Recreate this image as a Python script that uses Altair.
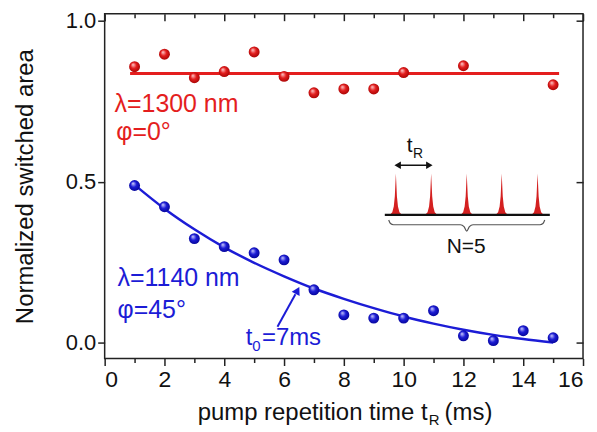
import altair as alt
import pandas as pd

# ---------------- data ----------------
red_x = [1, 2, 3, 4, 5, 6, 7, 8, 9, 10, 12, 15]
red_y = [0.857, 0.896, 0.823, 0.842, 0.903, 0.827, 0.776, 0.788, 0.788, 0.839, 0.860, 0.801]
red_fit_x = [0.85, 15.2]
red_fit_y = [0.836, 0.836]

blue_x = [1, 2, 3, 4, 5, 6, 7, 8, 9, 10, 11, 12, 13, 14, 15]
blue_y = [0.488, 0.422, 0.323, 0.298, 0.279, 0.257, 0.164, 0.086, 0.076, 0.076, 0.099, 0.021, 0.006, 0.037, 0.015]
blue_fit_x = [1, 2, 3, 4, 5, 6, 7, 8, 9, 10, 11, 12, 13, 14, 15]
blue_fit_y = [0.490, 0.416, 0.352, 0.296, 0.248, 0.206, 0.168, 0.136, 0.107, 0.081, 0.059, 0.040, 0.024, 0.011, 0.0]

x_major = [0, 2, 4, 6, 8, 10, 12, 14, 16]
x_minor = [1, 3, 5, 7, 9, 11, 13, 15]
x_all = list(range(0, 17))
y_ticks = [0.0, 0.5, 1.0]

# inset schematic (pulse train)
pulse_centers = [9.74, 10.92, 12.11, 13.28, 14.48]
pulse_offsets = [-0.2, -0.12, -0.07, -0.035, 0.0, 0.035, 0.07, 0.12, 0.2]
pulse_shape = [0.0, 0.06, 0.2, 0.45, 1.0, 0.45, 0.2, 0.06, 0.0]
pulse_base = 0.397
pulse_top = 0.525
inset_line_x = [9.37, 14.89]
brace_x = [9.50, 9.56, 9.66, 11.90, 12.02, 12.11, 12.20, 12.32, 14.56, 14.66, 14.72]
brace_y = [0.381, 0.370, 0.366, 0.366, 0.360, 0.346, 0.360, 0.366, 0.366, 0.370, 0.381]
tr_arrow_x = [9.80, 10.86]
tr_arrow_y = [0.551, 0.551]
t0_arrow_x = [5.78, 6.38]
t0_arrow_y = [0.049, 0.150]
t0_head = (6.45, 0.162)

RED = "#e41e1e"
BLUE = "#1c1cd6"
FONT = "Liberation Sans"

xs = alt.Scale(domain=[0, 16], nice=False, zero=False)
ys = alt.Scale(domain=[-0.0495, 1.0217], nice=False, zero=False)


def X(field="x", axis=None):
    return alt.X(field, type="quantitative", scale=xs, axis=axis)


def Y(field="y", axis=None):
    return alt.Y(field, type="quantitative", scale=ys, axis=axis)


def sphere(color, dark, light):
    return alt.RadialGradient(
        gradient="radial",
        stops=[alt.GradientStop(color=light, offset=0),
               alt.GradientStop(color=color, offset=0.45),
               alt.GradientStop(color=dark, offset=1)],
        x1=0.35, y1=0.3, r1=0, x2=0.5, y2=0.5, r2=0.6)


red_df = pd.DataFrame({"x": red_x, "y": red_y})
red_fit_df = pd.DataFrame({"x": red_fit_x, "y": red_fit_y})
blue_df = pd.DataFrame({"x": blue_x, "y": blue_y})
blue_fit_df = pd.DataFrame({"x": blue_fit_x, "y": blue_fit_y})

# axes
ax_bottom = alt.Axis(orient="bottom", values=x_all,
                     labelExpr="datum.value % 2 === 0 ? datum.label : ''",
                     tickSize={"condition": {"test": "datum.value % 2 === 0", "value": 7}, "value": 4},
                     labelFontSize=23, labelPadding=3, title=None)
ax_left = alt.Axis(orient="left", values=y_ticks, format=".1f", tickSize=7,
                   labelFontSize=22, labelPadding=2,
                   title="Normalized switched area", titleFontSize=24, titlePadding=28)
ax_top_major = alt.Axis(orient="top", values=x_major, tickSize=7, offset=-7,
                        labels=False, title=None)
ax_top_minor = alt.Axis(orient="top", values=x_minor, tickSize=4, offset=-4,
                        labels=False, title=None)
ax_right = alt.Axis(orient="right", values=y_ticks, tickSize=7, offset=-7,
                    labels=False, title=None)

red_line = alt.Chart(red_fit_df).mark_line(color=RED, strokeWidth=3).encode(
    x=X(axis=ax_bottom), y=Y(axis=ax_left))
blue_line = alt.Chart(blue_fit_df).mark_line(color=BLUE, strokeWidth=2.5, interpolate="monotone").encode(
    x=X(axis=ax_top_major), y=Y(axis=ax_right))
red_pts = alt.Chart(red_df).mark_circle(
    size=120, opacity=1, fill=sphere(RED, "#9a0000", "#ffd4d4"), strokeWidth=0).encode(
    x=X(axis=ax_top_minor), y=Y())
blue_pts = alt.Chart(blue_df).mark_circle(
    size=120, opacity=1, fill=sphere(BLUE, "#00008a", "#d4d4ff"), strokeWidth=0).encode(
    x=X(), y=Y())

# inset pulses
rows = []
for i, c in enumerate(pulse_centers):
    for o, s in zip(pulse_offsets, pulse_shape):
        rows.append({"x": c + o, "y": pulse_base + s * (pulse_top - pulse_base),
                     "y2": pulse_base, "pulse": i})
pulse_df = pd.DataFrame(rows)
pulses = alt.Chart(pulse_df).mark_area(color="#d42020", opacity=1).encode(
    x=X(), y=Y(), y2="y2:Q", detail="pulse:N")
base_line = alt.Chart(pd.DataFrame({"x": inset_line_x, "y": [pulse_base] * 2})).mark_line(
    color="#111", strokeWidth=2.2).encode(x=X(), y=Y())
brace = alt.Chart(pd.DataFrame({"x": brace_x, "y": brace_y, "o": list(range(len(brace_x)))})).mark_line(
    color="#555", strokeWidth=1.2, interpolate="monotone").encode(x=X(), y=Y(), order="o:Q")
tr_line = alt.Chart(pd.DataFrame({"x": tr_arrow_x, "y": tr_arrow_y})).mark_line(
    color="#111", strokeWidth=1.6).encode(x=X(), y=Y())
tr_heads = alt.Chart(pd.DataFrame({"x": tr_arrow_x, "y": tr_arrow_y,
                                   "s": ["triangle-left", "triangle-right"]})).mark_point(
    filled=True, color="#111", size=55, opacity=1).encode(
    x=X(), y=Y(), shape=alt.Shape("s:N", scale=None, legend=None))

t0_line = alt.Chart(pd.DataFrame({"x": t0_arrow_x, "y": t0_arrow_y})).mark_line(
    color=BLUE, strokeWidth=2).encode(x=X(), y=Y())
t0_h = alt.Chart(pd.DataFrame({"x": [t0_head[0]], "y": [t0_head[1]]})).mark_point(
    shape="triangle-up", angle=28, filled=True, color=BLUE, size=80, opacity=1).encode(x=X(), y=Y())


def txt(items, color, size, align="left", baseline="alphabetic"):
    df = pd.DataFrame(items, columns=["t", "x", "y"])
    return alt.Chart(df).mark_text(color=color, fontSize=size, font=FONT, align=align,
                                   baseline=baseline).encode(x=X(), y=Y(), text="t:N")


red_txt = txt([["λ=1300 nm", 0.33, 0.717], ["φ=0°", 0.39, 0.628]], RED, 25)
blue_txt = txt([["λ=1140 nm", 0.43, 0.177], ["φ=45°", 0.43, 0.075]], BLUE, 25)
t0_main = txt([["t", 4.72, -0.007], ["=7ms", 5.26, -0.007]], BLUE, 24)
t0_sub = txt([["0", 4.94, -0.026]], BLUE, 15)
tr_main = txt([["t", 10.10, 0.591]], "#111", 21)
tr_sub = txt([["R", 10.31, 0.573]], "#111", 14)
n5 = txt([["N=5", 12.09, 0.279]], "#111", 21, align="center")

# x-axis title with subscript (y in pixels below the plot area)
xt_main = alt.Chart(pd.DataFrame({"t": ["pump repetition time t"], "x": [10.80]})).mark_text(
    fontSize=24, font=FONT, color="#111", align="right", baseline="alphabetic").encode(
    x=X(), y=alt.value(408), text="t:N")
xt_sub = alt.Chart(pd.DataFrame({"t": ["R"], "x": [10.84]})).mark_text(
    fontSize=15, font=FONT, color="#111", align="left", baseline="alphabetic").encode(
    x=X(), y=alt.value(413), text="t:N")
xt_end = alt.Chart(pd.DataFrame({"t": ["(ms)"], "x": [11.37]})).mark_text(
    fontSize=24, font=FONT, color="#111", align="left", baseline="alphabetic").encode(
    x=X(), y=alt.value(408), text="t:N")

chart = alt.layer(
    red_line, blue_line, red_pts, blue_pts,
    pulses, base_line, brace, tr_line, tr_heads, t0_line, t0_h,
    red_txt, blue_txt, t0_main, t0_sub, tr_main, tr_sub, n5,
    xt_main, xt_sub, xt_end,
).resolve_axis(x="independent", y="independent").properties(
    width=480, height=346,
    autosize=alt.AutoSizeParams(type="none"),
    padding={"left": 97, "top": 5, "right": 6, "bottom": 72},
).configure_view(stroke="#222", strokeWidth=1.5).configure_axis(
    domain=False, grid=False, labelFont=FONT, titleFont=FONT, labelColor="#111",
    titleColor="#111", titleFontWeight="normal", tickColor="#222", tickWidth=1.5,
)

chart.save("out.html", embed_options={"renderer": "svg", "actions": False})
